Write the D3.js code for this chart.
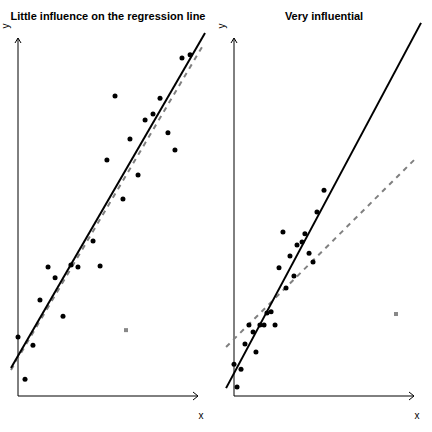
<!DOCTYPE html>
<html>
<head>
<meta charset="utf-8">
<script src="https://cdn.jsdelivr.net/npm/d3@7"></script>
<style>
body { margin: 0; background: #fff; }
text { font-family: "Liberation Sans", Arial, sans-serif; }
</style>
</head>
<body>
<div id="root"></div>
<script>
var width = 432;
var height = 432;

// panel titles
var titles = ["Little influence on the regression line", "Very influential"];

// left panel: points (x, y) in data units 0..100
var leftX = [53.9, 91.1, 95.6, 78.9, 75.0, 70.6, 83.3, 62.2, 87.2, 49.4, 66.7, 58.3,
  41.7, 16.7, 29.4, 33.3, 45.6, 20.6, 12.2, 25.0, 0.0, 8.3, 3.9];
var leftY = [83.8, 94.4, 95.3, 83.2, 78.8, 77.1, 73.5, 71.8, 68.7, 65.9, 61.7, 55.0,
  43.3, 36.0, 36.6, 36.0, 36.3, 33.0, 26.8, 22.3, 16.5, 14.2, 4.7];
var leftOutlier = [60.0, 18.4];

// right panel
var rightX = [50.0, 46.1, 27.2, 39.4, 37.8, 35.0, 31.1, 41.7, 25.0, 43.9, 33.3, 28.9,
  20.6, 18.3, 8.3, 14.4, 16.7, 22.8, 10.6, 6.1, 12.2, 0.0, 3.9, 1.7];
var rightY = [57.5, 51.4, 45.8, 45.3, 43.0, 42.2, 39.1, 39.9, 35.8, 37.4, 33.5, 30.2,
  23.5, 23.2, 19.8, 19.8, 19.8, 19.8, 17.9, 14.5, 12.3, 8.9, 7.5, 2.5];
var rightOutlier = [90.0, 22.9];

// fitted lines: [intercept, slope, xStart, xEnd]
// solid = fit without the gray point, dashed = fit with it
var leftSolid = [11.2, 0.868, -3.9, 103.9];
var leftDashed = [10.6, 0.850, -3.9, 102.2];
var rightSolid = [6.35, 0.942, -4.4, 103.9];
var rightDashed = [15.9, 0.50, -4.4, 101.1];

var svg = d3.select("#root")
  .append("svg")
  .attr("width", width)
  .attr("height", height);

var panels = [
  {title: titles[0], xs: leftX, ys: leftY, out: leftOutlier, solid: leftSolid, dashed: leftDashed, dx: 0, tx: 108},
  {title: titles[1], xs: rightX, ys: rightY, out: rightOutlier, solid: rightSolid, dashed: rightDashed, dx: 216, tx: 108}
];

panels.forEach(function(p) {
  var g = svg.append("g").attr("transform", "translate(" + p.dx + ",0)");

  var x = d3.scaleLinear().domain([0, 100]).range([18, 198]);
  var y = d3.scaleLinear().domain([0, 100]).range([396, 38]);

  var x0 = x.range()[0], x1 = x.range()[1];
  var y0 = y.range()[0], y1 = y.range()[1];

  // axes with open arrow heads
  g.append("path")
    .attr("d", "M" + x0 + "," + y0 + "H" + x1 + "M" + (x1 - 5) + "," + (y0 - 4) + "L" + x1 + "," + y0 + "L" + (x1 - 5) + "," + (y0 + 4))
    .attr("fill", "none")
    .attr("stroke", "#000")
    .attr("stroke-width", 1);
  g.append("path")
    .attr("d", "M" + x0 + "," + y0 + "V" + y1 + "M" + (x0 - 3) + "," + (y1 + 5) + "L" + x0 + "," + y1 + "L" + (x0 + 3) + "," + (y1 + 5))
    .attr("fill", "none")
    .attr("stroke", "#000")
    .attr("stroke-width", 1);

  g.append("text")
    .attr("x", x1 + 3)
    .attr("y", 419)
    .attr("text-anchor", "middle")
    .attr("font-size", "10px")
    .text("x");
  g.append("text")
    .attr("transform", "translate(9,26) rotate(-90)")
    .attr("text-anchor", "middle")
    .attr("font-size", "10px")
    .text("y");

  g.append("text")
    .attr("x", p.tx)
    .attr("y", 20)
    .attr("text-anchor", "middle")
    .attr("font-size", "11px")
    .attr("font-weight", "bold")
    .text(p.title);

  function lineData(l) {
    return [[l[2], l[0] + l[1] * l[2]], [l[3], l[0] + l[1] * l[3]]];
  }
  var line = d3.line()
    .x(function(d) { return x(d[0]); })
    .y(function(d) { return y(d[1]); });

  g.append("path")
    .datum(lineData(p.dashed))
    .attr("d", line)
    .attr("fill", "none")
    .attr("stroke", "#808080")
    .attr("stroke-width", 2)
    .attr("stroke-dasharray", "5,5");

  g.append("path")
    .datum(lineData(p.solid))
    .attr("d", line)
    .attr("fill", "none")
    .attr("stroke", "#000")
    .attr("stroke-width", 2);

  g.append("g")
    .selectAll("circle")
    .data(d3.range(p.xs.length))
    .enter()
    .append("circle")
    .attr("cx", function(i) { return x(p.xs[i]); })
    .attr("cy", function(i) { return y(p.ys[i]); })
    .attr("r", 2.5)
    .attr("fill", "#000");

  g.append("rect")
    .attr("x", x(p.out[0]) - 2)
    .attr("y", y(p.out[1]) - 2)
    .attr("width", 4)
    .attr("height", 4)
    .attr("fill", "#888");
});
</script>
</body>
</html>
